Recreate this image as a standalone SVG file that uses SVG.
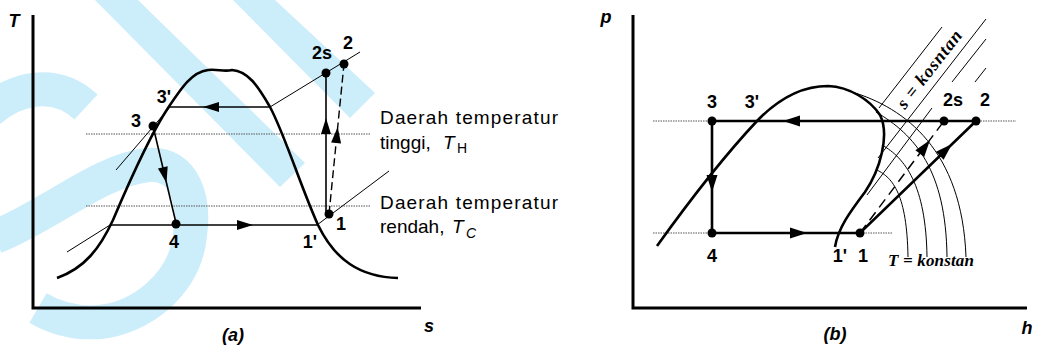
<svg xmlns="http://www.w3.org/2000/svg" width="1040" height="349" viewBox="0 0 1040 349">
<style>
.wm{fill:none;stroke:#ccedfa;stroke-width:34;stroke-linecap:butt}
.wmf{fill:#ccedfa;stroke:none}
.ax{stroke:#000;stroke-width:3;fill:none}
.dome{stroke:#000;stroke-width:2.6;fill:none;stroke-linejoin:round}
.thin{stroke:#000;stroke-width:1;fill:none}
.dot{stroke:#555;stroke-width:1;stroke-dasharray:1.5 1;fill:none}
.cyA{stroke:#000;stroke-width:1.6;fill:none}
.cyB{stroke:#000;stroke-width:2.6;fill:none}
.dashA{stroke:#000;stroke-width:1.4;fill:none;stroke-dasharray:8 4}
.dashB{stroke:#000;stroke-width:1.5;fill:none;stroke-dasharray:10 6}
.pt{fill:#000}
.lb{font-family:"Liberation Sans",Arial,sans-serif;font-weight:bold;font-size:18px;fill:#000;text-anchor:middle}
.ax-l{font-family:"Liberation Sans",Arial,sans-serif;font-weight:bold;font-style:italic;font-size:18px;fill:#000;text-anchor:middle}
.note{font-family:"Liberation Sans",Arial,sans-serif;font-size:19px;fill:#000}
.ser{font-family:"Liberation Serif","Times New Roman",serif;font-weight:bold;font-style:italic;fill:#000}
</style>
<defs>
<path id="ahA" d="M0 0 L-16 -5 L-16 5 Z"/>
<path id="ahB" d="M0 0 L-17 -5.5 L-17 5.5 Z"/>
</defs>
<rect width="1040" height="349" fill="#fff"/>
<g id="watermark">
<polygon class="wmf" points="95,0 138,0 305,163 280,187"/>
<polygon class="wmf" points="233,0 275,0 375,93 350,118"/>
<path class="wm" d="M -12 112 C 15 88, 55 78, 86 107"/>
<path class="wm" d="M -5 237 C 50 215, 100 170, 148 165 C 185 162, 195 200, 190 235 C 185 285, 140 318, 100 322 C 75 324, 55 318, 38 308"/>
</g>
<g id="axes">
<path class="ax" d="M33 15 V308 H421"/>
<path class="ax" d="M633 15 V308 H1027"/>
<text class="ax-l" x="14" y="27">T</text>
<text class="ax-l" x="429" y="332">s</text>
<text class="ax-l" x="233" y="341" font-size="19">(a)</text>
<text class="ax-l" x="606" y="23">p</text>
<text class="ax-l" x="1027" y="334">h</text>
<text class="ax-l" x="835" y="340" font-size="19">(b)</text>
</g>
<g id="curves-a">
<path class="dot" d="M86 134 H370 M86 206 H370"/>
<path class="dome" d="M57 278 C85 268, 100 248, 113 220 C130 180, 150 135, 168 108 C182 87, 192 72, 208 70 C218 69, 224 72, 232 70 C248 71, 258 86, 270 107 C285 135, 300 185, 318 225 C335 260, 360 277, 398 278"/>
<path class="thin" d="M116 170 L170 107 M67 252 L110 225 M270 107 L360 52 M317 225 L389 171"/>
</g>
<g id="curves-b">
<path class="dot" d="M653 121 H1016 M653 233 H893"/>
<path class="thin" d="M852 92 C905 108, 962 150, 966 257"/>
<path class="thin" d="M876 112 C915 135, 946 170, 947 257"/>
<path class="thin" d="M882 145 C905 158, 926 185, 927 257"/>
<path class="thin" d="M877 170 C893 178, 907 195, 908 257"/>
<path class="thin" d="M942 27 L879 108 M986 19 L878 158 M986 39 L952 82 M932 108 L867 195 M986 68 L975 82"/>
<path class="dome" d="M657 246 C690 200, 725 155, 757 121 C780 97, 805 86, 828 86 C850 87, 870 100, 880 115 C890 135, 880 170, 865 192 C850 212, 838 228, 835 247"/>
<text class="ser" font-size="18" transform="translate(905 110) rotate(-52)" textLength="94">s = kosntan</text>
<text class="ser" font-size="17" x="888" y="266" textLength="86">T = konstan</text>
</g>
<g id="connectors">
<path class="cyA" d="M270 107 H170"/>
<use href="#ahA" transform="translate(203 107) rotate(180)"/>
<path class="cyA" d="M153 126 L176 223"/>
<use href="#ahA" transform="translate(166.5 183) rotate(76.7)"/>
<path class="cyA" d="M110 225 H317"/>
<use href="#ahA" transform="translate(253 225) rotate(0)"/>
<path class="cyA" d="M326 214 V73"/>
<use href="#ahA" transform="translate(326 118) rotate(-90)"/>
<path class="dashA" d="M329 214 L344 64"/>
<use href="#ahA" transform="translate(337.7 127) rotate(-84.3)"/>
<path class="cyB" d="M976 121 H712 V233 H860 L976 121"/>
<use href="#ahB" transform="translate(783 121) rotate(180)"/>
<use href="#ahB" transform="translate(712 192) rotate(90)"/>
<use href="#ahB" transform="translate(807 233) rotate(0)"/>
<use href="#ahB" transform="translate(952 144) rotate(-44)"/>
<path class="dashB" d="M860 233 L944 121"/>
<use href="#ahB" transform="translate(930 140) rotate(-53.1)"/>
</g>
<g id="a-3"><circle class="pt" cx="153" cy="126" r="4.5"/><text class="lb" x="136" y="127">3</text></g>
<g id="a-3p"><text class="lb" x="164" y="103">3'</text></g>
<g id="a-4"><circle class="pt" cx="176" cy="224" r="4.5"/><text class="lb" x="174" y="248">4</text></g>
<g id="a-1p"><text class="lb" x="310" y="248">1'</text></g>
<g id="a-1"><circle class="pt" cx="329" cy="214" r="4.5"/><text class="lb" x="341" y="230">1</text></g>
<g id="a-2s"><circle class="pt" cx="326" cy="73" r="4.5"/><text class="lb" x="322" y="59">2s</text></g>
<g id="a-2"><circle class="pt" cx="344" cy="64" r="4.5"/><text class="lb" x="348" y="49">2</text></g>
<g id="b-3"><circle class="pt" cx="712" cy="121" r="4.5"/><text class="lb" x="712" y="108">3</text></g>
<g id="b-3p"><text class="lb" x="752" y="108">3'</text></g>
<g id="b-4"><circle class="pt" cx="712" cy="233" r="4.5"/><text class="lb" x="712" y="262">4</text></g>
<g id="b-1p"><text class="lb" x="840" y="262">1'</text></g>
<g id="b-1"><circle class="pt" cx="860" cy="233" r="4.5"/><text class="lb" x="863" y="262">1</text></g>
<g id="b-2s"><circle class="pt" cx="944" cy="121" r="4.5"/><text class="lb" x="953" y="106">2s</text></g>
<g id="b-2"><circle class="pt" cx="976" cy="121" r="4.5"/><text class="lb" x="985" y="106">2</text></g>
<g id="notes">
<text class="note" x="380" y="124" textLength="178">Daerah temperatur</text>
<text class="note" x="380" y="149">tinggi,<tspan x="443" font-style="italic">T</tspan><tspan x="457" dy="4" font-size="14">H</tspan></text>
<text class="note" x="380" y="209" textLength="178">Daerah temperatur</text>
<text class="note" x="380" y="233">rendah,<tspan x="452" font-style="italic">T</tspan><tspan x="466" dy="5" font-size="14" font-style="italic">C</tspan></text>
</g>
</svg>
